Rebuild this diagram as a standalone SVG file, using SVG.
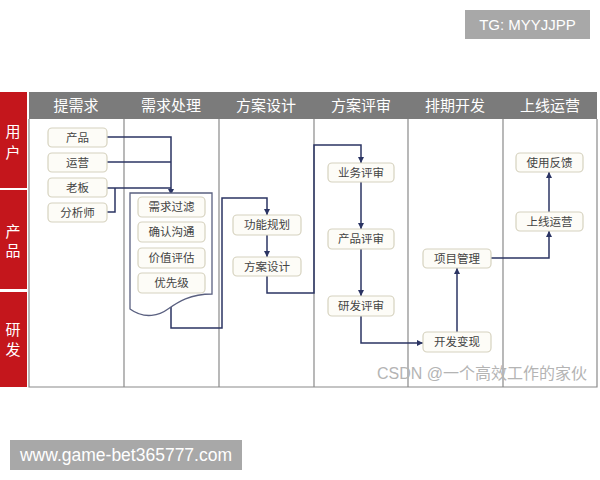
<svg xmlns="http://www.w3.org/2000/svg" width="600" height="480" viewBox="0 0 600 480">
<defs>
<marker id="arr" markerWidth="6" markerHeight="6" refX="6" refY="3" orient="auto" markerUnits="userSpaceOnUse">
<path d="M0,0 L6,3 L0,6 z" fill="#2b3463"/>
</marker>
<style>
.cj{font-family:"Noto Sans CJK SC","Noto Sans CJK JP",sans-serif;}
.hd{font-size:15px;fill:#ffffff;text-anchor:middle;}
.lane{font-size:15px;fill:#ffffff;text-anchor:middle;}
.box rect{fill:#fdfcf7;stroke:#d6d2bf;stroke-width:1.2;}
.box text{font-size:11.5px;fill:#444444;text-anchor:middle;}
.div{stroke:#8a8a8a;stroke-width:1.2;fill:none;}
.con path{fill:none;stroke:#2b3463;stroke-width:1.5;}
.wm{font-family:"Liberation Sans",Arial,sans-serif;fill:#ffffff;}
</style>
</defs>
<rect width="600" height="480" fill="#ffffff"/>

<!-- red lanes -->
<g id="lanes">
<rect x="0" y="92" width="27" height="96" fill="#c4161c"/>
<rect x="0" y="190" width="27" height="99" fill="#c4161c"/>
<rect x="0" y="292" width="27" height="95" fill="#c4161c"/>
<text class="cj lane" x="13" y="137">用</text>
<text class="cj lane" x="13" y="158">户</text>
<text class="cj lane" x="13" y="237">产</text>
<text class="cj lane" x="13" y="256">品</text>
<text class="cj lane" x="13" y="335">研</text>
<text class="cj lane" x="13" y="355">发</text>
</g>

<!-- header and frame -->
<g id="frame">
<rect x="29" y="92" width="568" height="27" fill="#7b7b7b"/>
<path class="div" d="M29,119 V387 H597 V119"/>
<path class="div" d="M124,119 V387 M219,119 V387 M314,119 V387 M408,119 V387 M503,119 V387"/>
<text class="cj hd" x="76" y="111">提需求</text>
<text class="cj hd" x="171" y="111">需求处理</text>
<text class="cj hd" x="266" y="111">方案设计</text>
<text class="cj hd" x="361" y="111">方案评审</text>
<text class="cj hd" x="455" y="111">排期开发</text>
<text class="cj hd" x="550" y="111">上线运营</text>
</g>

<!-- connectors -->
<g id="connectors" class="con">
<path d="M107,137 H171 V195" marker-end="url(#arr)"/>
<path d="M107,162 H171"/>
<path d="M107,188 H171"/>
<path d="M107,212 H115 V188"/>
<path d="M171,307 V328 H222 V198 H267 V215" marker-end="url(#arr)"/>
<path d="M267,235 V257" marker-end="url(#arr)"/>
<path d="M267,276 V293 H314 V145 H361 V163" marker-end="url(#arr)"/>
<path d="M361,182 V229" marker-end="url(#arr)"/>
<path d="M361,249 V296" marker-end="url(#arr)"/>
<path d="M361,316 V343 H423" marker-end="url(#arr)"/>
<path d="M457,332 V268" marker-end="url(#arr)"/>
<path d="M491,258 H549 V231" marker-end="url(#arr)"/>
<path d="M549,212 V172" marker-end="url(#arr)"/>
</g>

<!-- document shape -->
<g id="doc">
<path d="M130,193 H212 V294 C190,294 178,302 168,309 C160,315 145,320 130,309 Z" fill="#ffffff" stroke="#5a6080" stroke-width="1.3"/>
</g>

<g id="n-chanpin" class="box"><rect x="48" y="128" width="59" height="19" rx="4"/><text class="cj" x="77.5" y="142">产品</text></g>
<g id="n-yunying" class="box"><rect x="48" y="153" width="59" height="19" rx="4"/><text class="cj" x="77.5" y="167">运营</text></g>
<g id="n-laoban" class="box"><rect x="48" y="178" width="59" height="19" rx="4"/><text class="cj" x="77.5" y="192">老板</text></g>
<g id="n-fenxishi" class="box"><rect x="48" y="203" width="59" height="19" rx="4"/><text class="cj" x="77.5" y="217">分析师</text></g>

<g id="n-guolv" class="box"><rect x="138" y="197" width="67" height="20" rx="4"/><text class="cj" x="171.5" y="211">需求过滤</text></g>
<g id="n-goutong" class="box"><rect x="138" y="222" width="67" height="20" rx="4"/><text class="cj" x="171.5" y="236">确认沟通</text></g>
<g id="n-pinggu" class="box"><rect x="138" y="248" width="67" height="20" rx="4"/><text class="cj" x="171.5" y="262">价值评估</text></g>
<g id="n-youxian" class="box"><rect x="138" y="273" width="67" height="20" rx="4"/><text class="cj" x="171.5" y="287">优先级</text></g>

<g id="n-gongneng" class="box"><rect x="233" y="215" width="68" height="20" rx="4"/><text class="cj" x="267" y="229">功能规划</text></g>
<g id="n-fangan" class="box"><rect x="233" y="257" width="68" height="19" rx="4"/><text class="cj" x="267" y="271">方案设计</text></g>

<g id="n-yewu" class="box"><rect x="328" y="163" width="66" height="19" rx="4"/><text class="cj" x="361" y="177">业务评审</text></g>
<g id="n-cpps" class="box"><rect x="328" y="229" width="66" height="20" rx="4"/><text class="cj" x="361" y="243">产品评审</text></g>
<g id="n-yanfa" class="box"><rect x="328" y="296" width="66" height="20" rx="4"/><text class="cj" x="361" y="310">研发评审</text></g>

<g id="n-xiangmu" class="box"><rect x="423" y="249" width="68" height="19" rx="4"/><text class="cj" x="457" y="263">项目管理</text></g>
<g id="n-kaifa" class="box"><rect x="423" y="332" width="68" height="20" rx="4"/><text class="cj" x="457" y="346">开发变现</text></g>

<g id="n-fankui" class="box"><rect x="516" y="153" width="67" height="19" rx="4"/><text class="cj" x="549.5" y="167">使用反馈</text></g>
<g id="n-shangxian" class="box"><rect x="516" y="212" width="67" height="19" rx="4"/><text class="cj" x="549.5" y="226">上线运营</text></g>

<!-- watermarks -->
<text x="482" y="379" text-anchor="middle" font-size="16" fill="#b4b4b4" font-family="Liberation Sans,&quot;Noto Sans CJK SC&quot;,sans-serif">CSDN @一个高效工作的家伙</text>
<rect x="465" y="10" width="125" height="29" fill="#a8a8a8"/>
<text class="wm" x="527.5" y="30" text-anchor="middle" font-size="15">TG: MYYJJPP</text>
<rect x="10" y="440" width="232" height="30" fill="#a8a8a8"/>
<text class="wm" x="126" y="461" text-anchor="middle" font-size="17.5">www.game-bet365777.com</text>
</svg>
